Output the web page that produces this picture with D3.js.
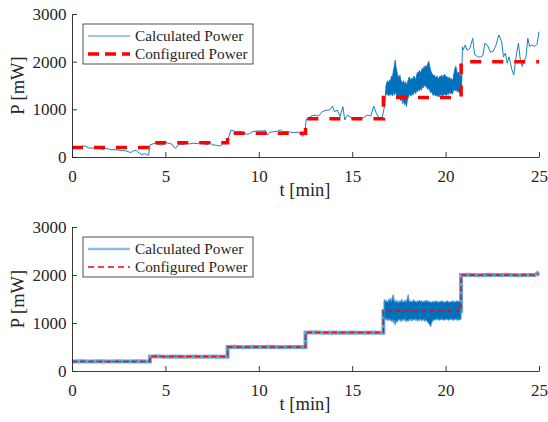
<!DOCTYPE html>
<html>
<head>
<meta charset="utf-8">
<script src="https://cdn.jsdelivr.net/npm/d3@7"></script>
<style>
  html, body { margin: 0; padding: 0; background: #fff; }
  svg { display: block; font-family: "Liberation Serif", "Times New Roman", serif; }
  svg text { font-family: "Liberation Serif", "Times New Roman", serif; }
</style>
</head>
<body>
<svg id="chart" width="548" height="422"></svg>
<script>
// ---- data ----
const xTicks = [0, 5, 10, 15, 20, 25];
const yTicks = [0, 1000, 2000, 3000];
const legendLabels = ["Calculated Power", "Configured Power"];

// configured power: step start times [min] and levels [mW]
const stepTimes = [0, 4.17, 8.33, 12.5, 16.67, 20.83, 25];
const stepLevels = [200, 300, 500, 800, 1250, 2000, 2000];

// upper panel, calculated power [t min, P mW] before the dense segment
const topCalcA = [
  [0.00, 210], [0.15, 215], [0.30, 205], [0.45, 220], [0.60, 230], [0.75, 225],
  [0.90, 185], [1.05, 190], [1.25, 180], [1.45, 185], [1.65, 160], [1.80, 180],
  [1.95, 170], [2.10, 150], [2.30, 155], [2.50, 145], [2.65, 130], [2.85, 135],
  [3.00, 110], [3.15, 95], [3.30, 130], [3.45, 140], [3.60, 80], [3.75, 50],
  [3.90, 70], [4.00, 45], [4.10, 40], [4.17, 250], [4.30, 270], [4.45, 290],
  [4.60, 270], [4.75, 250], [4.90, 265], [5.05, 300], [5.20, 285], [5.35, 270],
  [5.45, 210], [5.55, 185], [5.65, 240], [5.80, 270], [5.95, 260], [6.10, 285],
  [6.30, 275], [6.50, 290], [6.70, 280], [6.85, 300], [7.00, 320], [7.10, 270],
  [7.25, 260], [7.40, 310], [7.50, 255], [7.65, 250], [7.80, 240], [7.95, 235],
  [8.10, 285], [8.25, 290], [8.30, 330], [8.40, 430], [8.50, 560], [8.65, 550],
  [8.80, 525], [9.00, 535], [9.20, 520], [9.35, 475], [9.50, 490], [9.65, 530],
  [9.85, 540], [10.00, 550], [10.20, 545], [10.35, 555], [10.45, 460], [10.60, 520],
  [10.80, 530], [11.00, 540], [11.15, 565], [11.30, 530], [11.50, 535], [11.70, 520],
  [11.90, 515], [12.10, 520], [12.25, 475], [12.35, 430], [12.45, 500], [12.55, 800],
  [12.65, 780], [12.80, 860], [13.00, 880], [13.20, 860], [13.40, 950], [13.60, 980],
  [13.80, 990], [13.95, 1070], [14.05, 950], [14.20, 985], [14.35, 850], [14.50, 1055],
  [14.60, 780], [14.75, 880], [15.00, 810], [15.20, 790], [15.40, 815], [15.60, 820],
  [15.80, 880], [16.00, 860], [16.15, 1070], [16.30, 910], [16.45, 810], [16.60, 820],
  [16.75, 1100], [16.80, 1400]
];

// upper panel, dense segment as [t, min, max]
const topCalcBand = [
  [16.80, 1330, 1480], [16.85, 1300, 1560], [16.90, 1350, 1600], [16.95, 1280, 1540],
  [17.00, 1310, 1620], [17.05, 1300, 1580], [17.10, 1330, 1700], [17.15, 1280, 1650],
  [17.20, 1360, 1800], [17.25, 1300, 1900], [17.30, 1380, 2030], [17.35, 1320, 1880],
  [17.40, 1250, 1780], [17.45, 1300, 1700], [17.50, 1230, 1650], [17.55, 1280, 1720],
  [17.60, 1180, 1620], [17.65, 1250, 1580], [17.70, 1120, 1560], [17.75, 1200, 1600],
  [17.80, 1100, 1520], [17.85, 1150, 1580], [17.90, 1060, 1500], [17.95, 1180, 1560],
  [18.00, 1250, 1620], [18.05, 1300, 1680], [18.10, 1330, 1640], [18.15, 1280, 1600],
  [18.20, 1350, 1660], [18.25, 1300, 1620], [18.30, 1340, 1700], [18.35, 1380, 1660],
  [18.40, 1330, 1620], [18.45, 1400, 1720], [18.50, 1370, 1780], [18.55, 1420, 1750],
  [18.60, 1390, 1820], [18.65, 1450, 1760], [18.70, 1400, 1800], [18.75, 1480, 1860],
  [18.80, 1450, 1830], [18.85, 1520, 1900], [18.90, 1480, 1870], [18.95, 1500, 1920],
  [19.00, 1450, 1880], [19.05, 1420, 1960], [19.10, 1460, 2010], [19.15, 1400, 1900],
  [19.20, 1350, 1820], [19.25, 1380, 1760], [19.30, 1320, 1740], [19.35, 1290, 1700],
  [19.40, 1340, 1720], [19.45, 1280, 1680], [19.50, 1310, 1650], [19.55, 1270, 1700],
  [19.60, 1300, 1640], [19.65, 1260, 1660], [19.70, 1320, 1700], [19.75, 1290, 1680],
  [19.80, 1310, 1720], [19.85, 1280, 1660], [19.90, 1330, 1700], [19.95, 1300, 1740],
  [20.00, 1320, 1680], [20.05, 1290, 1700], [20.10, 1340, 1660], [20.15, 1310, 1640],
  [20.20, 1360, 1680], [20.25, 1330, 1620], [20.30, 1350, 1650], [20.35, 1320, 1600],
  [20.40, 1370, 1640], [20.45, 1400, 1760], [20.50, 1430, 1860], [20.55, 1380, 1900],
  [20.60, 1420, 1800], [20.65, 1360, 1740], [20.70, 1390, 1780], [20.75, 1340, 1700],
  [20.80, 1370, 1720], [20.86, 1330, 1700]
];

// upper panel, calculated power after the dense segment
const topCalcB = [
  [20.86, 1600], [20.90, 2310], [20.95, 2250], [21.05, 2350], [21.15, 2240], [21.30, 2280],
  [21.45, 2490], [21.55, 2150], [21.70, 2110], [21.85, 2090], [22.00, 2130], [22.10, 2385],
  [22.25, 2340], [22.40, 2200], [22.55, 2220], [22.70, 2350], [22.85, 2560], [23.00, 2420],
  [23.10, 2100], [23.20, 2180], [23.30, 1965], [23.40, 2100], [23.55, 1830], [23.65, 1720],
  [23.80, 2175], [23.90, 2385], [24.00, 2035], [24.10, 1900], [24.30, 2100], [24.40, 2490],
  [24.50, 2320], [24.60, 2350], [24.75, 2320], [24.90, 2370], [25.00, 2630]
];

// lower panel, calculated power [t, P] along the steps
const botCalc = [
  [0.00, 200], [0.50, 204], [1.00, 197], [1.50, 202], [2.00, 196], [2.50, 203],
  [3.00, 199], [3.50, 204], [4.17, 198], [4.17, 300], [4.50, 305], [5.00, 298],
  [5.50, 303], [6.00, 297], [6.50, 304], [7.00, 299], [7.50, 302], [8.33, 298],
  [8.33, 500], [8.70, 505], [9.20, 497], [9.70, 503], [10.20, 498], [10.70, 504],
  [11.20, 497], [11.70, 502], [12.50, 499], [12.50, 800], [13.00, 805], [13.50, 797],
  [14.00, 803], [14.50, 798], [15.00, 804], [15.50, 797], [16.00, 802], [16.67, 798],
  [16.67, 1250], [20.83, 1250], [20.83, 2000], [21.30, 2005], [21.80, 1997], [22.30, 2003],
  [22.80, 1998], [23.30, 2004], [23.80, 1997], [24.30, 2002], [24.80, 2001], [25.00, 2060]
];

// lower panel, noisy segment as [t, min, max]
const botCalcBand = [
  [16.70, 1080, 1460], [16.75, 1060, 1490], [16.80, 1100, 1440], [16.85, 1070, 1470],
  [16.90, 1040, 1430], [16.95, 1090, 1500], [17.00, 1050, 1460], [17.05, 1080, 1520],
  [17.10, 1030, 1450], [17.15, 1070, 1540], [17.20, 1000, 1590], [17.25, 1060, 1470],
  [17.30, 960, 1440], [17.35, 1040, 1480], [17.40, 1010, 1430], [17.45, 1070, 1460],
  [17.50, 1050, 1420], [17.55, 1080, 1470], [17.60, 1030, 1440], [17.65, 1070, 1500],
  [17.70, 1040, 1430], [17.75, 1090, 1460], [17.80, 1050, 1450], [17.85, 1080, 1480],
  [17.90, 1020, 1430], [17.95, 1060, 1520], [18.00, 1030, 1590], [18.05, 1080, 1460],
  [18.10, 1050, 1440], [18.15, 1090, 1470], [18.20, 1040, 1430], [18.25, 1070, 1460],
  [18.30, 1060, 1490], [18.35, 1090, 1440], [18.40, 1050, 1460], [18.45, 1080, 1430],
  [18.50, 1030, 1470], [18.55, 1070, 1440], [18.60, 1050, 1480], [18.65, 1090, 1450],
  [18.70, 1040, 1470], [18.75, 1070, 1430], [18.80, 1050, 1460], [18.85, 1080, 1440],
  [18.90, 1030, 1470], [18.95, 1060, 1450], [19.00, 1040, 1480], [19.05, 1010, 1440],
  [19.10, 990, 1460], [19.15, 960, 1430], [19.20, 920, 1450], [19.25, 1000, 1420],
  [19.30, 1030, 1450], [19.35, 1070, 1430], [19.40, 1050, 1460], [19.45, 1080, 1440],
  [19.50, 1060, 1470], [19.55, 1090, 1430], [19.60, 1070, 1450], [19.65, 1050, 1420],
  [19.70, 1080, 1460], [19.75, 1060, 1440], [19.80, 1090, 1470], [19.85, 1070, 1430],
  [19.90, 1050, 1450], [19.95, 1080, 1420], [20.00, 1060, 1460], [20.05, 1090, 1440],
  [20.10, 1070, 1470], [20.15, 1050, 1430], [20.20, 1080, 1450], [20.25, 1060, 1420],
  [20.30, 1090, 1460], [20.35, 1070, 1440], [20.40, 1050, 1470], [20.45, 1080, 1430],
  [20.50, 1060, 1450], [20.55, 1090, 1440], [20.60, 1070, 1470], [20.65, 1050, 1440],
  [20.70, 1080, 1460], [20.75, 1060, 1450], [20.83, 1080, 1440]
];

// ---- drawing ----
const svg = d3.select("#chart");
const axisColor = "#262626";
const blue = "#0072BD";
const red = "#FF0000";
const fontFamily = "'Liberation Serif', 'Times New Roman', serif";
const configured = stepTimes.map((t, i) => [t, stepLevels[i]]);

function panel(opts) {
  const x = d3.scaleLinear().domain([0, 25]).range([72, 539]);
  const y = d3.scaleLinear().domain([0, 3000]).range([opts.bottom, opts.top]);
  const g = svg.append("g");

  const line = d3.line().x(d => x(d[0])).y(d => y(d[1]));
  const band = d3.area().x(d => x(d[0])).y0(d => y(d[1])).y1(d => y(d[2]));
  const step = d3.line().x(d => x(d[0])).y(d => y(d[1])).curve(d3.curveStepAfter);

  opts.drawCalc(g, line, band);

  g.append("path")
    .datum(configured)
    .attr("d", step)
    .attr("fill", "none")
    .attr("stroke", red)
    .attr("stroke-width", opts.cfgWidth)
    .attr("stroke-dasharray", opts.cfgDash);

  // axes (ticks point into the plot)
  const fmt = d3.format("d");
  const xa = g.append("g")
    .attr("transform", `translate(0,${opts.bottom})`)
    .call(d3.axisBottom(x).tickValues(xTicks).tickFormat(fmt)
      .tickSizeInner(-5).tickSizeOuter(0).tickPadding(12.5));
  const ya = g.append("g")
    .attr("transform", "translate(72,0)")
    .call(d3.axisLeft(y).tickValues(yTicks).tickFormat(fmt)
      .tickSizeInner(-5).tickSizeOuter(0).tickPadding(5.5));
  [xa, ya].forEach(a => {
    a.attr("font-family", fontFamily).attr("font-size", 17);
    a.select(".domain").attr("stroke", axisColor).attr("stroke-width", 0.9);
    a.selectAll(".tick line").attr("stroke", axisColor).attr("stroke-width", 0.9);
    a.selectAll(".tick text").attr("fill", axisColor);
  });

  g.append("text")
    .attr("x", 305).attr("y", opts.bottom + 39)
    .attr("text-anchor", "middle")
    .attr("fill", axisColor)
    .style("font-size", "18.5px")
    .text("t [min]");

  g.append("text")
    .attr("transform", `translate(24,${(opts.top + opts.bottom) / 2}) rotate(-90)`)
    .attr("text-anchor", "middle")
    .attr("fill", axisColor)
    .style("font-size", "18.5px")
    .text("P [mW]");

  // legend
  const lg = g.append("g").attr("transform", `translate(83,${opts.top + 10})`);
  lg.append("rect")
    .attr("x", 0).attr("y", 0).attr("width", 170).attr("height", 40)
    .attr("fill", "#fff").attr("stroke", axisColor).attr("stroke-width", 0.8);
  legendLabels.forEach((lab, i) => {
    const yy = 12 + i * 18;
    const s = lg.append("line")
      .attr("x1", 5).attr("x2", 47).attr("y1", yy).attr("y2", yy);
    if (i === 0) {
      s.attr("stroke", opts.legendCalcColor).attr("stroke-width", opts.legendCalcWidth);
    } else {
      s.attr("stroke", red).attr("stroke-width", opts.cfgWidth)
        .attr("stroke-dasharray", opts.legendDash);
    }
    lg.append("text")
      .attr("x", 52).attr("y", yy + 5)
      .attr("fill", axisColor)
      .style("font-size", "15.3px")
      .text(lab);
  });
}

// upper panel
panel({
  top: 14, bottom: 157,
  cfgWidth: 3.5, cfgDash: "11,11", legendDash: "11,6",
  legendCalcColor: "#3a8fd3", legendCalcWidth: 1,
  drawCalc: (g, line, band) => {
    g.append("path").datum(topCalcBand).attr("d", band).attr("fill", blue)
      .attr("stroke", blue).attr("stroke-width", 0.8);
    [topCalcA, topCalcB].forEach(seg => {
      g.append("path").datum(seg).attr("d", line)
        .attr("fill", "none").attr("stroke", blue).attr("stroke-width", 0.9)
        .attr("stroke-linejoin", "round");
    });
  }
});

// lower panel
panel({
  top: 227, bottom: 371,
  cfgWidth: 1.5, cfgDash: "5,3.5", legendDash: "6,4",
  legendCalcColor: "#8dbde6", legendCalcWidth: 2.5,
  drawCalc: (g, line, band) => {
    g.append("path").datum(botCalc).attr("d", line)
      .attr("fill", "none").attr("stroke", blue).attr("stroke-opacity", 0.6)
      .attr("stroke-width", 4);
    g.append("path").datum(botCalc).attr("d", line)
      .attr("fill", "none").attr("stroke", blue).attr("stroke-width", 1.2)
      .attr("stroke-dasharray", "1.5,2.5");
    g.append("path").datum(botCalcBand).attr("d", band).attr("fill", blue)
      .attr("stroke", "#5a9fd6").attr("stroke-width", 1);
  }
});
</script>
</body>
</html>
